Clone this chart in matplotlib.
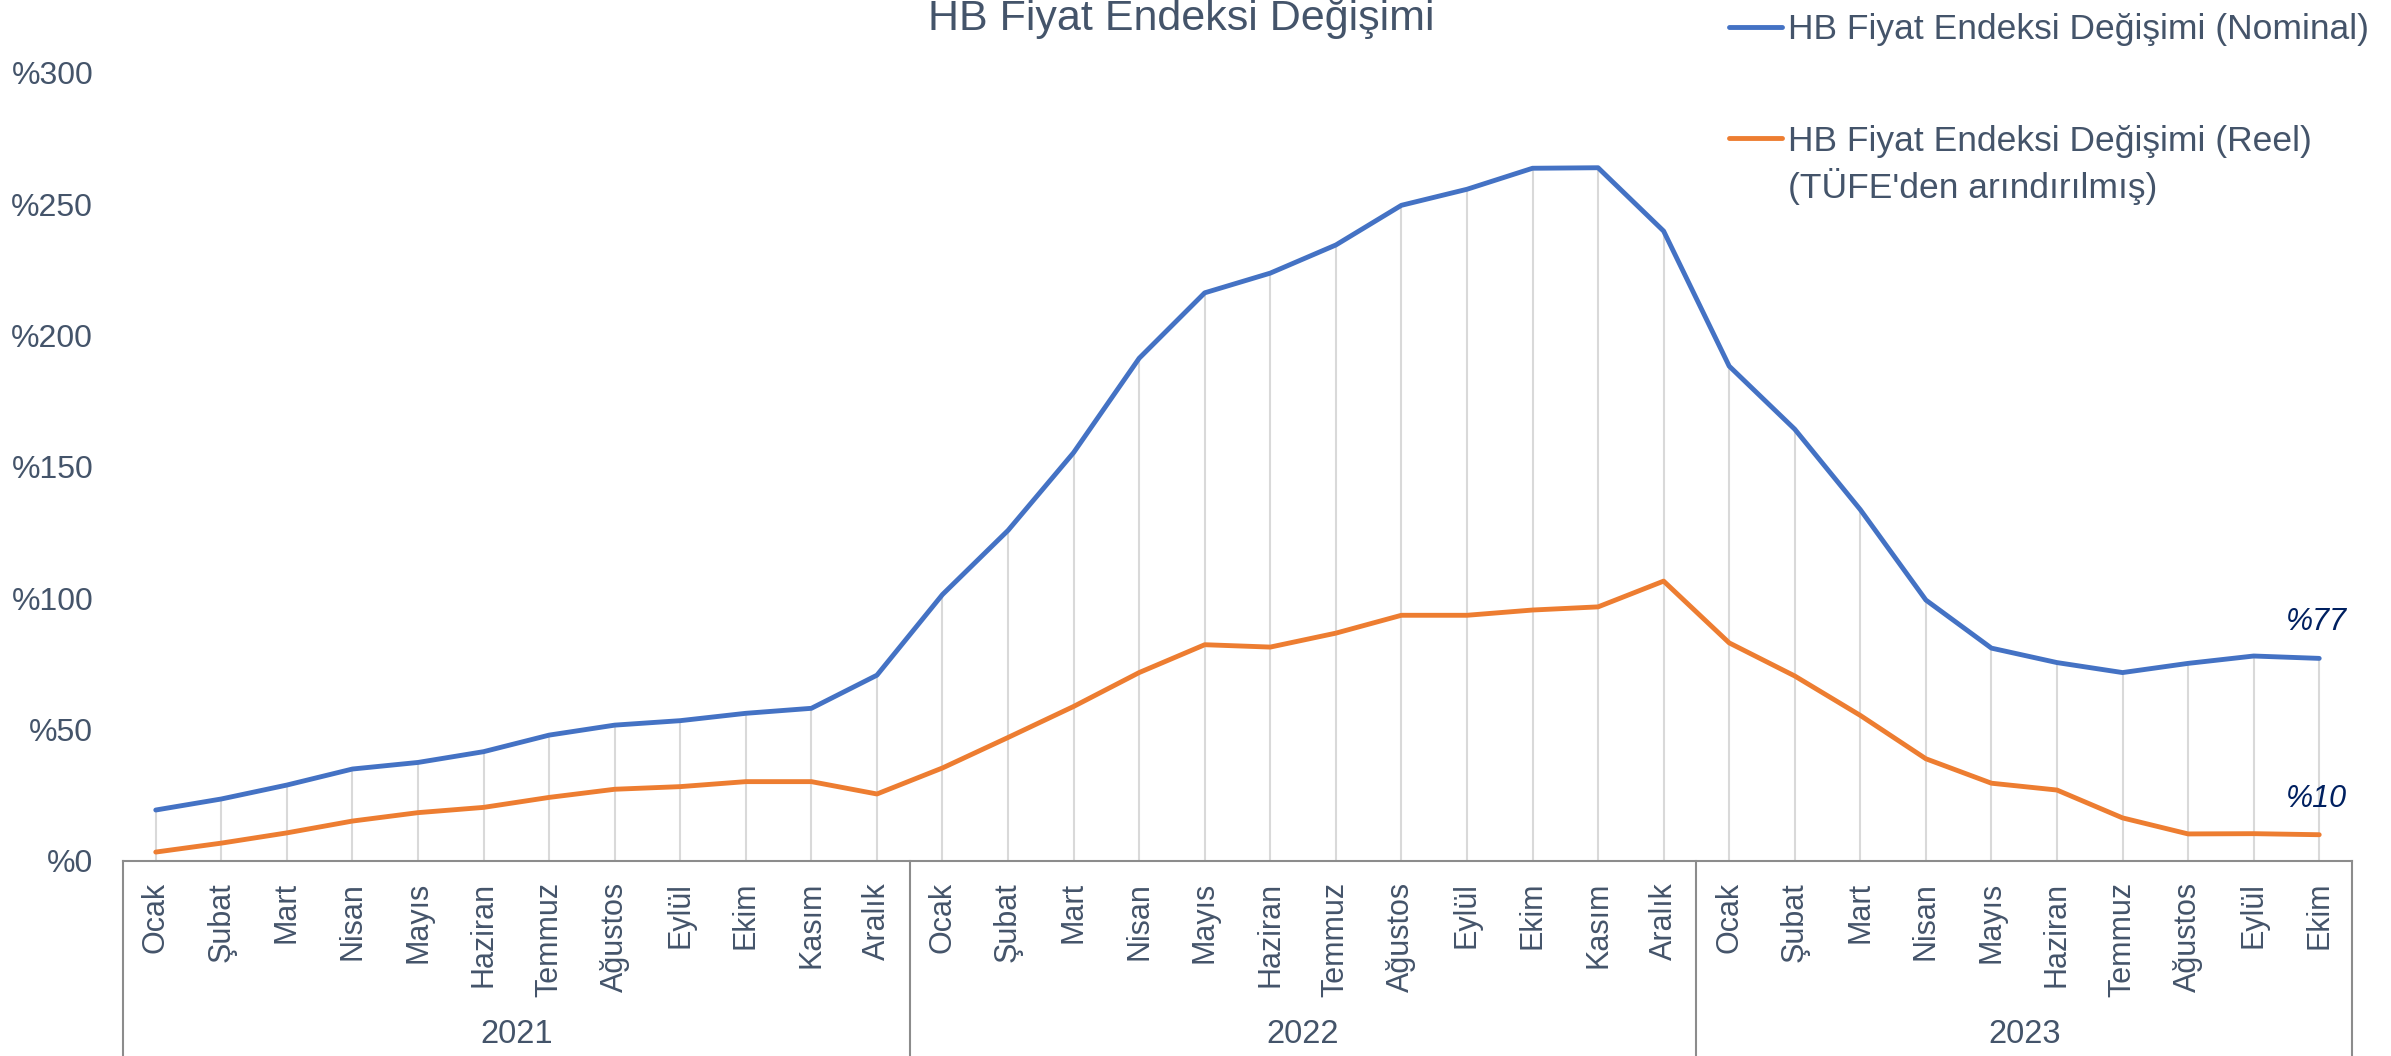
import matplotlib
matplotlib.use("Agg")
import matplotlib.pyplot as plt
import matplotlib.transforms as mtransforms
from matplotlib.lines import Line2D

plt.rcParams['font.family'] = ['Liberation Sans', 'DejaVu Sans']

months_2021 = ['Ocak', 'Şubat', 'Mart', 'Nisan', 'Mayıs', 'Haziran',
               'Temmuz', 'Ağustos', 'Eylül', 'Ekim', 'Kasım', 'Aralık']
months_2022 = list(months_2021)
months_2023 = ['Ocak', 'Şubat', 'Mart', 'Nisan', 'Mayıs', 'Haziran',
               'Temmuz', 'Ağustos', 'Eylül', 'Ekim']
years = ['2021', '2022', '2023']

# HB Fiyat Endeksi yıllık değişim (%)
nominal = [19.4, 23.6, 28.9, 35.0, 37.5, 41.6, 47.9, 51.7, 53.4, 56.2, 58.1, 70.7,
           101.4, 125.8, 155.4, 191.3, 216.2, 223.7, 234.4, 249.5, 255.6, 263.6, 263.8, 239.7,
           188.3, 164.3, 133.7, 99.3, 81.0, 75.5, 71.7, 75.2, 78.0, 77.1]
reel = [3.4, 6.8, 10.7, 15.2, 18.4, 20.4, 24.2, 27.3, 28.3, 30.2, 30.2, 25.5,
        35.4, 47.0, 58.8, 71.7, 82.3, 81.4, 86.7, 93.5, 93.5, 95.5, 96.7, 106.5,
        83.0, 70.4, 55.4, 38.9, 29.6, 27.0, 16.4, 10.3, 10.4, 10.0]

labels = months_2021 + months_2022 + months_2023
x = list(range(len(labels)))

text_col = '#44546A'
blue = '#4472C4'
orange = '#ED7D31'
W, H = 2391, 1056

fig = plt.figure(figsize=(W / 100, H / 100), dpi=100)
ax = fig.add_axes([123 / W, 1 - 861 / H, (2352 - 123) / W, (861 - 72.6) / H])

# drop lines
ax.vlines(x, 0, nominal, color='#D9D9D9', lw=1.5, zorder=1)

ax.plot(x, nominal, color=blue, lw=3.5, solid_capstyle='round', zorder=3)
ax.plot(x, reel, color=orange, lw=3.5, solid_capstyle='round', zorder=3)

ax.set_xlim(-0.5, len(labels) - 0.5)
ax.set_ylim(0, 300)

ax.set_yticks(range(0, 301, 50))
ax.set_yticklabels(['%' + str(v) for v in range(0, 301, 50)])
ax.set_xticks(x)
ax.set_xticklabels(labels, rotation=90)
ax.tick_params(axis='y', length=0, pad=21.5, labelsize=23, labelcolor=text_col)
ax.tick_params(axis='x', length=0, pad=15, labelsize=22, labelcolor=text_col)

for s in ['top', 'right', 'left']:
    ax.spines[s].set_visible(False)
ax.spines['bottom'].set_color('#8C8C8C')
ax.spines['bottom'].set_linewidth(1.5)

# multi-level category separators and year labels
trans = mtransforms.blended_transform_factory(ax.transData, ax.transAxes)
starts = [0, len(months_2021), len(months_2021) + len(months_2022)]
counts = [len(months_2021), len(months_2022), len(months_2023)]
for s, n, yr in zip(starts, counts, years):
    ax.plot([s - 0.5, s - 0.5], [0, -0.3], transform=trans, color='#8C8C8C',
            lw=1.5, clip_on=False)
    ax.text(s + (n - 1) / 2, -0.2207, yr, transform=trans, ha='center', va='center',
            fontsize=23.5, color=text_col)
ax.plot([len(labels) - 0.5] * 2, [0, -0.3], transform=trans, color='#8C8C8C',
        lw=1.5, clip_on=False)

# end labels
ax.text(33.43, 91.1, '%' + str(round(nominal[-1])), ha='right', va='center',
        fontsize=22, style='italic', color='#002060')
ax.text(33.43, 23.6, '%' + str(round(reel[-1])), ha='right', va='center',
        fontsize=22, style='italic', color='#002060')

# title
fig.text(1181 / W, 1 - 30 / H, 'HB Fiyat Endeksi Değişimi', ha='center', va='baseline',
         fontsize=31, color=text_col)

# legend
fig.add_artist(Line2D([1729 / W, 1782 / W], [1 - 27 / H] * 2, color=blue, lw=3.5,
                      solid_capstyle='round'))
fig.text(1788 / W, 1 - 39.5 / H, 'HB Fiyat Endeksi Değişimi (Nominal)', va='baseline',
         fontsize=25.5, color=text_col)
fig.add_artist(Line2D([1729 / W, 1782 / W], [1 - 138 / H] * 2, color=orange, lw=3.5,
                      solid_capstyle='round'))
fig.text(1788 / W, 1 - 151 / H, 'HB Fiyat Endeksi Değişimi (Reel)', va='baseline',
         fontsize=25.5, color=text_col)
fig.text(1788 / W, 1 - 198 / H, "(TÜFE'den arındırılmış)", va='baseline',
         fontsize=25.5, color=text_col)

fig.savefig('out.png', dpi=100)
